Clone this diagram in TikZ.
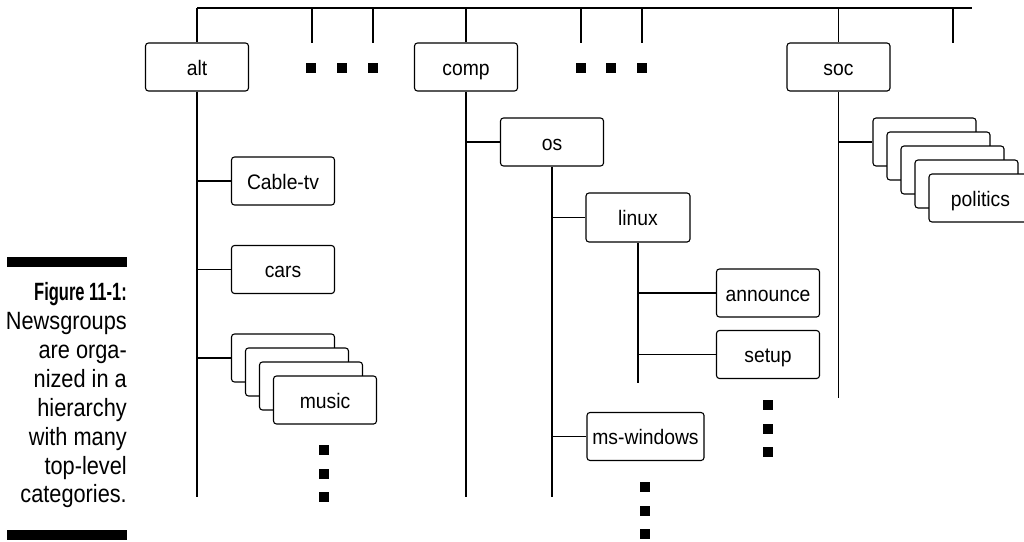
\documentclass[tikz,border=0pt]{standalone}
\usepackage{fontspec}
\setmainfont{Liberation Sans}[FakeStretch=0.92]
\newfontfamily\capfont{Liberation Sans}[FakeStretch=0.87]
\newfontfamily\capbold{Liberation Sans}[FakeStretch=0.66]
\begin{document}
\begin{tikzpicture}[x=1pt,y=-1pt,
  ln/.style={line width=1.1pt},
  nbox/.style={draw, line width=1.1pt, rounded corners=3pt, fill=white,
    minimum width=103pt, minimum height=48pt, inner sep=0pt,
    text height=16pt, text depth=0pt,
    font=\fontsize{21}{21}\selectfont},
  sq/.style={fill=black, minimum size=10pt, inner sep=0pt},
  capline/.style={anchor=base east, inner sep=0pt, font=\capfont\fontsize{25}{25}\selectfont},
  bar/.style={fill=black}]
\useasboundingbox (0,0) rectangle (1024,541);
\clip (0,0) rectangle (1024,541);

% top bus
\coordinate (busL) at (197,8);
\coordinate (busR) at (972,8);
\coordinate (t1) at (312,8);
\coordinate (t2) at (373,8);
\coordinate (t3) at (581,8);
\coordinate (t4) at (642,8);
\coordinate (t5) at (953,8);
\coordinate (altend) at (197,497);
\coordinate (compend) at (466,497);
\coordinate (osend) at (552,497);
\coordinate (linuxend) at (638,383);
\coordinate (socend) at (838.5,398);

% top-level boxes
\node[nbox] (alt) at (197,67) {alt};
\node[nbox] (comp) at (466,67) {comp};
\node[nbox] (soc) at (838.5,67) {soc};

\draw[ln] (busL) -- (busR);
\draw[ln] (busL) -- (alt.north);
\draw[ln] (comp.north |- busL) -- (comp.north);
\draw[ln] (soc.north |- busL) -- (soc.north);
\foreach \t in {t1,t2,t3,t4,t5} \draw[ln] (\t) -- ++(0,35);

% vertical trunks
\draw[ln] (alt.south) -- (altend);
\draw[ln] (comp.south) -- (compend);
\draw[ln] (soc.south) -- (socend);

% alt children
\node[nbox] (cabletv) at (283,181) {Cable-tv};
\node[nbox] (cars) at (283,269.5) {cars};
\node[nbox] (m1) at (283,358) {};
\node[nbox] (m2) at (297,372) {};
\node[nbox] (m3) at (311,386) {};
\node[nbox] (music) at (325,400) {music};
\draw[ln] (cabletv.west -| altend) -- (cabletv.west);
\draw[ln] (cars.west -| altend) -- (cars.west);
\draw[ln] (m1.west -| altend) -- (m1.west);

% comp children
\node[nbox] (os) at (552,142) {os};
\draw[ln] (os.west -| compend) -- (os.west);
\draw[ln] (os.south) -- (osend);
\node[nbox, minimum width=104pt, minimum height=49pt] (linux) at (638,217.5) {linux};
\node[nbox, minimum width=117pt] (mswin) at (645.5,436.5) {ms-windows};
\draw[ln] (linux.west -| osend) -- (linux.west);
\draw[ln] (mswin.west -| osend) -- (mswin.west);
\draw[ln] (linux.south) -- (linuxend);
\node[nbox] (announce) at (768,293) {announce};
\node[nbox] (setup) at (768,354.5) {setup};
\draw[ln] (announce.west -| linuxend) -- (announce.west);
\draw[ln] (setup.west -| linuxend) -- (setup.west);

% soc children
\node[nbox] (s1) at (924.5,142) {};
\node[nbox] (s2) at (938.5,156) {};
\node[nbox] (s3) at (952.5,170) {};
\node[nbox] (s4) at (966.5,184) {};
\node[nbox] (politics) at (980.5,198) {politics};
\draw[ln] (s1.west -| socend) -- (s1.west);

% ellipsis squares
\foreach \p [count=\i] in {(311,68),(342,68),(373,68)} \node[sq] (da\i) at \p {};
\foreach \p [count=\i] in {(581,68),(611,68),(642,68)} \node[sq] (db\i) at \p {};
\foreach \p [count=\i] in {(324,450),(324,473.5),(324,497)} \node[sq] (dc\i) at \p {};
\foreach \p [count=\i] in {(768,405),(768,428.5),(768,452)} \node[sq] (dd\i) at \p {};
\foreach \p [count=\i] in {(645,487),(645,510.5),(645,534)} \node[sq] (de\i) at \p {};

% caption
\fill[bar] (7,257) rectangle (127,267);
\fill[bar] (7,530) rectangle (127,540);
\node[capline, font=\capbold\bfseries\fontsize{25}{25}\selectfont] (c1) at (127,300) {Figure 11-1:};
\node[capline] (c2) at (127,329) {Newsgroups};
\node[capline] (c3) at (127,358) {are orga-};
\node[capline] (c4) at (127,387) {nized in a};
\node[capline] (c5) at (127,416) {hierarchy};
\node[capline] (c6) at (127,445) {with many};
\node[capline] (c7) at (127,474) {top-level};
\node[capline] (c8) at (127,502) {categories.};
\end{tikzpicture}
\end{document}
